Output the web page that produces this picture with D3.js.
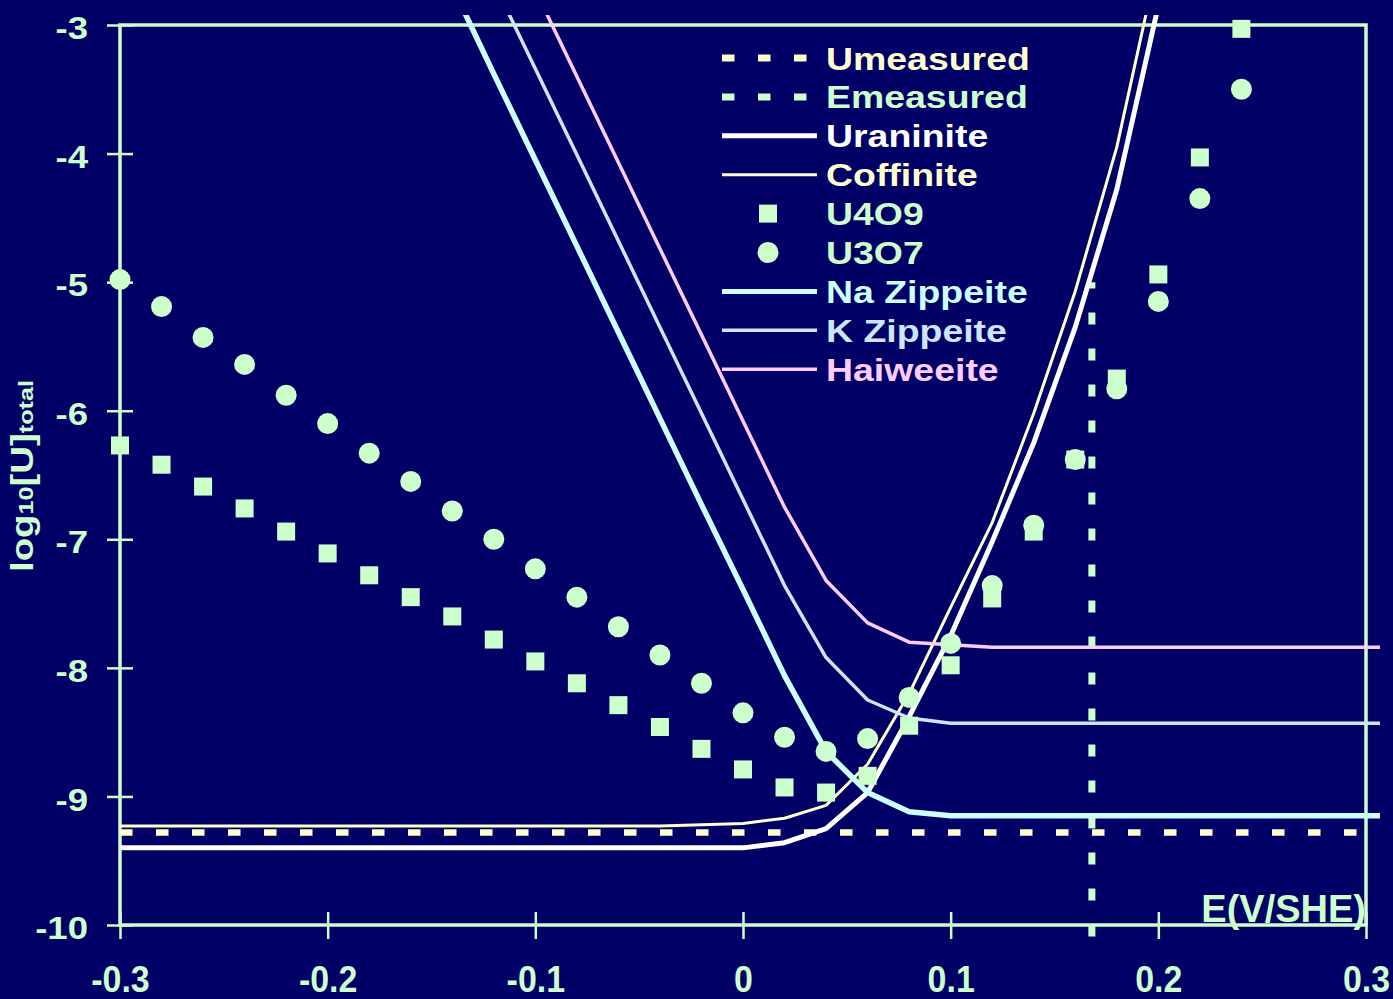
<!DOCTYPE html>
<html>
<head>
<meta charset="utf-8">
<script src="https://cdn.jsdelivr.net/npm/d3@7"></script>
<style>
  html, body { margin: 0; padding: 0; background: #000066; }
  svg { display: block; }
  text { font-family: "Liberation Sans", Arial, sans-serif; font-weight: bold; }
</style>
</head>
<body>
<svg id="chart" width="1393" height="999"></svg>
<script>
// Redox potential grid (V vs SHE)
const potentials = [-0.30, -0.28, -0.26, -0.24, -0.22, -0.20, -0.18, -0.16, -0.14, -0.12,
                    -0.10, -0.08, -0.06, -0.04, -0.02, 0.00, 0.02, 0.04, 0.06, 0.08,
                     0.10, 0.12, 0.14, 0.16, 0.18, 0.20, 0.22, 0.24, 0.26, 0.28,
                     0.30, 0.32];

// Solubility curves, log10 total dissolved U (null = off scale)
const uraninite = [-9.40, -9.40, -9.40, -9.40, -9.40, -9.40, -9.40, -9.40, -9.40, -9.40,
                   -9.40, -9.40, -9.40, -9.40, -9.40, -9.40, -9.36, -9.25, -8.97, -8.38,
                   -7.75, -7.02, -6.25, -5.35, -4.28, -2.85, null, null, null, null,
                   null, null];
const coffinite = [-9.23, -9.23, -9.23, -9.23, -9.23, -9.23, -9.23, -9.23, -9.23, -9.23,
                   -9.23, -9.23, -9.23, -9.23, -9.22, -9.21, -9.17, -9.07, -8.75, -8.20,
                   -7.53, -6.87, -6.02, -5.07, -3.95, -2.48, null, null, null, null,
                   null, null];
const naZippeite = [null, null, null, null, null, null, null, null, -2.70, -3.38,
                    -4.05, -4.72, -5.39, -6.06, -6.73, -7.39, -8.06, -8.65, -8.97, -9.12,
                    -9.15, -9.15, -9.15, -9.15, -9.15, -9.15, -9.15, -9.15, -9.15, -9.15,
                    -9.15, -9.15];
const kZippeite = [null, null, null, null, null, null, null, null, null, -2.67,
                   -3.34, -4.01, -4.68, -5.35, -6.02, -6.69, -7.36, -7.92, -8.25, -8.39,
                   -8.43, -8.43, -8.43, -8.43, -8.43, -8.43, -8.43, -8.43, -8.43, -8.43,
                   -8.43, -8.43];
const haiweeite = [null, null, null, null, null, null, null, null, null, null,
                   -2.73, -3.40, -4.07, -4.74, -5.41, -6.08, -6.75, -7.32, -7.65, -7.80,
                   -7.82, -7.84, -7.84, -7.84, -7.84, -7.84, -7.84, -7.84, -7.84, -7.84,
                   -7.84, -7.84];

// Oxide solubilities, one value per potential from -0.30 to 0.24
const u4o9 = [-6.27, -6.42, -6.59, -6.76, -6.94, -7.11, -7.28, -7.45, -7.60, -7.78,
              -7.95, -8.12, -8.29, -8.46, -8.63, -8.79, -8.93, -8.97, -8.84, -8.45,
              -7.98, -7.46, -6.94, -6.38, -5.75, -4.94, -4.03, -3.03];
const u3o7 = [-4.98, -5.19, -5.43, -5.64, -5.88, -6.10, -6.33, -6.55, -6.78, -7.00,
              -7.23, -7.45, -7.68, -7.90, -8.12, -8.35, -8.54, -8.65, -8.55, -8.23,
              -7.81, -7.36, -6.89, -6.38, -5.83, -5.15, -4.35, -3.50];

// Measured values
const uMeasured = -9.28;          // log10 [U]
const uMeasuredRange = [-0.30, 0.30];
const eMeasured = 0.168;          // V
const eMeasuredRange = [-10.09, -5.0];

// Axis ticks
const xTicks = [-0.3, -0.2, -0.1, 0, 0.1, 0.2, 0.3];
const xTickLabels = ["-0.3", "-0.2", "-0.1", "0", "0.1", "0.2", "0.3"];
const yTicks = [-3, -4, -5, -6, -7, -8, -9, -10];
const yTickLabels = ["-3", "-4", "-5", "-6", "-7", "-8", "-9", "-10"];

const legendNames = ["Umeasured", "Emeasured", "Uraninite", "Coffinite", "U4O9", "U3O7",
                     "Na Zippeite", "K Zippeite", "Haiweeite"];

// ---- drawing ----
const AXIS = "#ccffcc";
const svg = d3.select("#chart");

const x = d3.scaleLinear().domain([-0.3, 0.3]).range([120, 1366]);
const y = d3.scaleLinear().domain([-10, -3]).range([925, 25]);

svg.append("rect").attr("width", 1393).attr("height", 999).attr("fill", "#000066");

// plot frame
svg.append("rect")
  .attr("x", x(-0.3)).attr("y", y(-3))
  .attr("width", x(0.3) - x(-0.3)).attr("height", y(-10) - y(-3))
  .attr("fill", "none").attr("stroke", AXIS).attr("stroke-width", 3.5);

function stretchText(sel, sx) {
  sel.each(function () {
    const t = d3.select(this);
    const tx = +t.attr("x") || 0;
    const ty = +t.attr("y") || 0;
    t.attr("x", 0).attr("y", 0).attr("transform", `translate(${tx},${ty}) scale(${sx},1)`);
  });
}

// y axis (ticks cross the frame line)
const gy = svg.append("g")
  .attr("transform", `translate(${x(-0.3) + 13},0)`)
  .call(d3.axisLeft(y).tickValues(yTicks).tickSize(26).tickPadding(19)
        .tickFormat((d, i) => yTickLabels[i]));
gy.select(".domain").remove();
gy.selectAll(".tick line").attr("stroke", AXIS).attr("stroke-width", 2.5);
gy.selectAll(".tick text").attr("fill", AXIS).attr("font-size", 31).attr("dy", "0.44em");
stretchText(gy.selectAll(".tick text"), 1.18);

// x axis, labels slightly condensed
const gx = svg.append("g")
  .attr("transform", `translate(0,${y(-10) - 13})`)
  .call(d3.axisBottom(x).tickValues(xTicks).tickSize(27).tickPadding(26)
        .tickFormat((d, i) => xTickLabels[i]));
gx.select(".domain").remove();
gx.selectAll(".tick line").attr("stroke", AXIS).attr("stroke-width", 2.5);
gx.selectAll(".tick text").attr("fill", AXIS).attr("font-size", 35).attr("dy", "0.71em");
gx.selectAll(".tick text").each(function () {
  const t = d3.select(this);
  const ty = +t.attr("y") || 0;
  t.attr("y", 0).attr("transform", `translate(0,${ty}) scale(0.97,1.08)`);
});

// axis titles
svg.append("text")
  .attr("x", x(0.3)).attr("y", y(-10) - 3)
  .attr("text-anchor", "end").attr("fill", AXIS).attr("font-size", 38)
  .text("E(V/SHE)");

const yt = svg.append("text")
  .attr("transform", `translate(33,476) rotate(-90) scale(1.2,1)`)
  .attr("text-anchor", "middle").attr("fill", AXIS);
yt.append("tspan").attr("font-size", 32).text("log");
yt.append("tspan").attr("font-size", 21).text("10");
yt.append("tspan").attr("font-size", 32).text("[U]");
yt.append("tspan").attr("font-size", 21).text("total");

// clip region for curves
svg.append("defs").append("clipPath").attr("id", "plotClip")
  .append("rect").attr("x", 117).attr("y", 15).attr("width", 1263).attr("height", 925);

const plot = svg.append("g").attr("clip-path", "url(#plotClip)");
const line = d3.line().defined(d => d[1] != null).x(d => x(d[0])).y(d => y(d[1]));
const pairs = vals => potentials.map((p, i) => [p, vals[i]]);

// measured values (dashed)
plot.append("path")
  .attr("d", line(uMeasuredRange.map(p => [p, uMeasured])))
  .attr("fill", "none").attr("stroke", "#ffffcc").attr("stroke-width", 6.5)
  .attr("stroke-dasharray", "12.5,23.5");
plot.append("path")
  .attr("d", line(eMeasuredRange.map(v => [eMeasured, v])))
  .attr("fill", "none").attr("stroke", "#ccffcc").attr("stroke-width", 7)
  .attr("stroke-dasharray", "12,24");

const curves = [
  { vals: uraninite, color: "#ffffff", width: 5 },
  { vals: coffinite, color: "#ffffcc", width: 3 },
  { vals: naZippeite, color: "#ccffff", width: 5.5 },
  { vals: kZippeite, color: "#cce6ff", width: 3.5 },
  { vals: haiweeite, color: "#ffccff", width: 3.5 }
];
curves.forEach(c => {
  plot.append("path")
    .attr("d", line(pairs(c.vals)))
    .attr("fill", "none").attr("stroke", c.color).attr("stroke-width", c.width)
    .attr("stroke-linejoin", "round");
});

// oxide points
const MARK = "#ccffcc";
svg.append("g").selectAll("rect").data(u4o9).join("rect")
  .attr("x", (d, i) => x(potentials[i]) - 9).attr("y", d => y(d) - 9)
  .attr("width", 18).attr("height", 18).attr("fill", MARK);
svg.append("g").selectAll("circle").data(u3o7).join("circle")
  .attr("cx", (d, i) => x(potentials[i])).attr("cy", d => y(d))
  .attr("r", 10.5).attr("fill", MARK);

// legend
const legendStyles = [
  { kind: "dash", color: "#ffffcc", text: "#ffffcc", width: 7 },
  { kind: "dash", color: "#ccffcc", text: "#ccffcc", width: 7 },
  { kind: "line", color: "#ffffff", text: "#ffffff", width: 5 },
  { kind: "line", color: "#ffffcc", text: "#ffffcc", width: 3 },
  { kind: "square", color: MARK, text: "#ccffcc" },
  { kind: "circle", color: MARK, text: "#ccffcc" },
  { kind: "line", color: "#ccffff", text: "#ccffff", width: 5 },
  { kind: "line", color: "#cce6ff", text: "#cce6ff", width: 3.5 },
  { kind: "line", color: "#ffccff", text: "#ffccff", width: 3.5 }
];
const leg = svg.append("g");
legendNames.forEach((name, i) => {
  const st = legendStyles[i];
  const cy = 58 + i * 38.9;
  const g = leg.append("g").attr("transform", `translate(0,${cy})`);
  if (st.kind === "dash") {
    g.append("line").attr("x1", 722).attr("x2", 817).attr("y1", 0).attr("y2", 0)
      .attr("stroke", st.color).attr("stroke-width", st.width).attr("stroke-dasharray", "12.5,23.5");
  } else if (st.kind === "line") {
    g.append("line").attr("x1", 722).attr("x2", 817).attr("y1", 0).attr("y2", 0)
      .attr("stroke", st.color).attr("stroke-width", st.width);
  } else if (st.kind === "square") {
    g.append("rect").attr("x", 759).attr("y", -9).attr("width", 18).attr("height", 18).attr("fill", st.color);
  } else {
    g.append("circle").attr("cx", 768).attr("cy", 0).attr("r", 10.5).attr("fill", st.color);
  }
  g.append("text").attr("transform", "translate(826,11.5) scale(1.17,1)")
    .attr("font-size", 32).attr("fill", st.text).text(name);
});
</script>
</body>
</html>
